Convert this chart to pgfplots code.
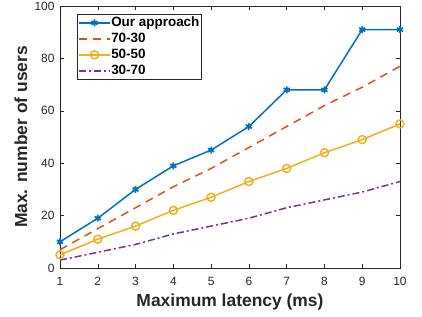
\documentclass[border=0pt]{standalone}
\usepackage{pgfplots}
\pgfplotsset{compat=1.18}
\usepackage{fontspec}
\setmainfont{Liberation Sans}
\definecolor{c1}{rgb}{0,0.447,0.741}
\definecolor{c2}{rgb}{0.85,0.325,0.098}
\definecolor{c3}{rgb}{0.929,0.694,0.125}
\definecolor{c4}{rgb}{0.494,0.184,0.556}
\definecolor{axc}{rgb}{0.15,0.15,0.15}
\begin{document}
\begin{tikzpicture}
\begin{axis}[
  name=ax,
  scale only axis,
  width=340bp, height=262bp,
  xmin=1, xmax=10, ymin=0, ymax=100,
  xtick={1,...,10}, ytick={0,20,...,100},
  tick align=inside,
  axis line style={draw=axc, line width=0.5pt},
  tick style={axc, line width=0.5pt},
  major tick length=4bp,
  ticklabel style={font=\fontsize{12}{14}\selectfont, text=axc},
  xticklabel style={yshift=-6bp},
  yticklabel style={xshift=-2bp},
  /pgf/number format/assume math mode=true,
  xlabel={\textbf{Maximum latency (ms)}},
  ylabel={\textbf{Max. number of users}},
  label style={font=\fontsize{17.5}{20}\selectfont, text=axc},
  xlabel style={at={(axis description cs:0.5,0)}, anchor=center, yshift=-34bp},
  ylabel style={at={(axis description cs:0,0.5)}, anchor=center, yshift=39bp},
  legend style={font=\fontsize{13.5}{15}\selectfont\bfseries, draw=axc, at={(0.05,0.97)}, anchor=north west, row sep=2.5bp, inner xsep=1bp, inner ysep=2bp, line width=0.5pt,
    nodes={inner sep=0.5bp, text height=10bp, text depth=2.5bp}},
  legend cell align=left,
  legend image code/.code={\draw[#1] (0bp,0bp) -- (31bp,0bp); \draw[#1,solid] plot coordinates {(15.5bp,0bp)};},
]
\addplot[c1, line width=1.5bp, mark=asterisk, mark size=3.5bp, mark options={line width=1.7bp}] coordinates {(1,10)(2,19)(3,30)(4,39)(5,45)(6,54)(7,68)(8,68)(9,91)(10,91)};
\addlegendentry{Our approach}
\addplot[c2, line width=1.5bp, dash pattern=on 8bp off 6bp] coordinates {(1,7)(2,15)(3,23)(4,31)(5,38)(6,46)(7,54)(8,62)(9,69)(10,77)};
\addlegendentry{70-30}
\addplot[c3, line width=1.5bp, mark=o, mark size=4bp, mark options={line width=1.5bp}] coordinates {(1,5)(2,11)(3,16)(4,22)(5,27)(6,33)(7,38)(8,44)(9,49)(10,55)};
\addlegendentry{50-50}
\addplot[c4, line width=1.5bp, dash pattern=on 7bp off 3bp on 2bp off 3bp] coordinates {(1,3)(2,6)(3,9)(4,13)(5,16)(6,19)(7,23)(8,26)(9,29)(10,33)};
\addlegendentry{30-70}
\end{axis}
\pgfresetboundingbox
\path ([xshift=-60bp,yshift=-48bp]ax.south west) rectangle ([xshift=22bp,yshift=6bp]ax.north east);
\end{tikzpicture}
\end{document}
